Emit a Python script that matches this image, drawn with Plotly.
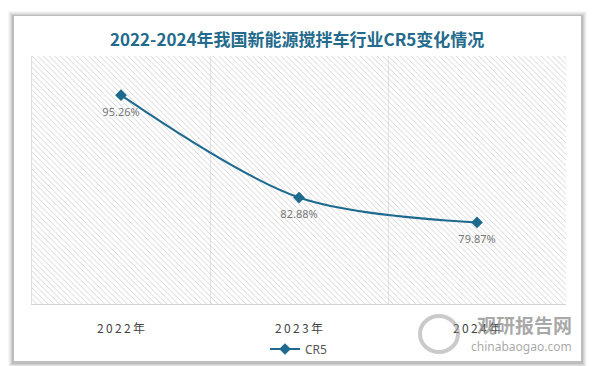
import plotly.graph_objects as go

years = ["2022年", "2023年", "2024年"]
cr5 = [95.26, 82.88, 79.87]
labels = ["95.26%", "82.88%", "79.87%"]
bg_fill = [1, 1, 1]

W, H = 594, 366
L, R, T, B = 32, 28, 56, 62
pw, ph = W - L - R, H - T - B

def px(x):
    return (x - L) / pw

def py(y):
    return (H - B - y) / ph

def spaced(s):
    return "\u2009".join(list(s))

tick_text = [spaced(y) for y in years]

fig = go.Figure()

fig.add_trace(go.Bar(
    x=years, y=bg_fill, base=0, width=1,
    marker=dict(color="rgba(0,0,0,0)", line=dict(width=0),
                pattern=dict(shape="\\", fgcolor="#d0d0d0", size=4, solidity=0.22, fillmode="replace")),
    hoverinfo="skip", showlegend=False, yaxis="y",
))

fig.add_trace(go.Scatter(
    x=years, y=cr5, name="CR5", yaxis="y2",
    mode="lines+markers",
    line=dict(color="#1d6a8e", width=2, shape="spline", smoothing=0.9),
    marker=dict(symbol="diamond", size=9, color="#1d6a8e"),
))

fig.add_trace(go.Scatter(
    x=years, y=cr5, yaxis="y2", mode="markers+text", showlegend=False, hoverinfo="skip",
    marker=dict(size=18, color="rgba(0,0,0,0)"),
    text=labels, textposition="bottom center",
    textfont=dict(family="Noto Sans", size=11, color="#777777"),
))

shapes = []
for i, op in enumerate([0.03, 0.04, 0.05, 0.07, 0.09]):
    d = 6 - i
    shapes.append(dict(type="rect", xref="paper", yref="paper", layer="below",
                       x0=px(14 - d), x1=px(581 + d), y0=py(361 + d + 1), y1=py(16 - d + 1),
                       line=dict(width=0), fillcolor=f"rgba(0,0,0,{op})"))
shapes.append(dict(type="rect", xref="paper", yref="paper", layer="below",
                   x0=px(14), x1=px(581), y0=py(361), y1=py(16),
                   line=dict(width=0), fillcolor="white"))
shapes.append(dict(type="circle", xref="paper", yref="paper", layer="above",
                   x0=px(420), x1=px(458), y0=py(352), y1=py(316),
                   line=dict(width=4, color="rgba(150,150,150,0.5)"), fillcolor="rgba(0,0,0,0)"))

annotations = [
    dict(text="<b>2022-2024年我国新能源搅拌车行业CR5变化情况</b>", xref="paper", yref="paper",
         x=px(297), y=py(38), xanchor="center", yanchor="middle", showarrow=False,
         font=dict(family="Noto Sans CJK SC", size=17, color="#236a8c")),
    dict(text="<b>观研报告网</b>", xref="paper", yref="paper", x=px(574), y=py(324),
         xanchor="right", yanchor="middle", showarrow=False,
         font=dict(family="Noto Sans CJK SC", size=19, color="rgba(140,140,140,0.75)")),
    dict(text="chinabaogao.com", xref="paper", yref="paper", x=px(574), y=py(346),
         xanchor="right", yanchor="middle", showarrow=False,
         font=dict(family="Noto Sans", size=12, color="rgba(140,140,140,0.75)")),
]

fig.update_layout(
    width=W, height=H,
    margin=dict(l=L, r=R, t=T, b=B, autoexpand=False),
    paper_bgcolor="white", plot_bgcolor="white",
    shapes=shapes, annotations=annotations,
    bargap=0,
    xaxis=dict(type="category", tickmode="array", tickvals=years, ticktext=tick_text,
               tickson="boundaries", ticks="", showgrid=True, gridcolor="#e3e3e3", gridwidth=1,
               showline=True, linecolor="#d4d4d4", linewidth=1,
               tickfont=dict(family="Noto Sans CJK SC", size=12, color="#444444"),
               ticklabelstandoff=14, range=[-0.5, 2.5], fixedrange=True),
    yaxis=dict(range=[0, 1], showgrid=False, showticklabels=False, zeroline=False,
               showline=True, linecolor="#dddddd", linewidth=1, ticks=""),
    yaxis2=dict(range=[70, 100], overlaying="y", showgrid=False, showticklabels=False,
                zeroline=False, showline=False, ticks=""),
    legend=dict(orientation="h", x=0.5, xanchor="center", y=py(349), yanchor="middle",
                font=dict(family="Noto Sans", size=12, color="#555555"),
                bgcolor="rgba(0,0,0,0)", itemwidth=30),
    showlegend=True,
)

fig.write_html("out.html", config={"displayModeBar": False},
               post_script="document.body.style.margin='0';document.body.style.overflow='hidden';")
